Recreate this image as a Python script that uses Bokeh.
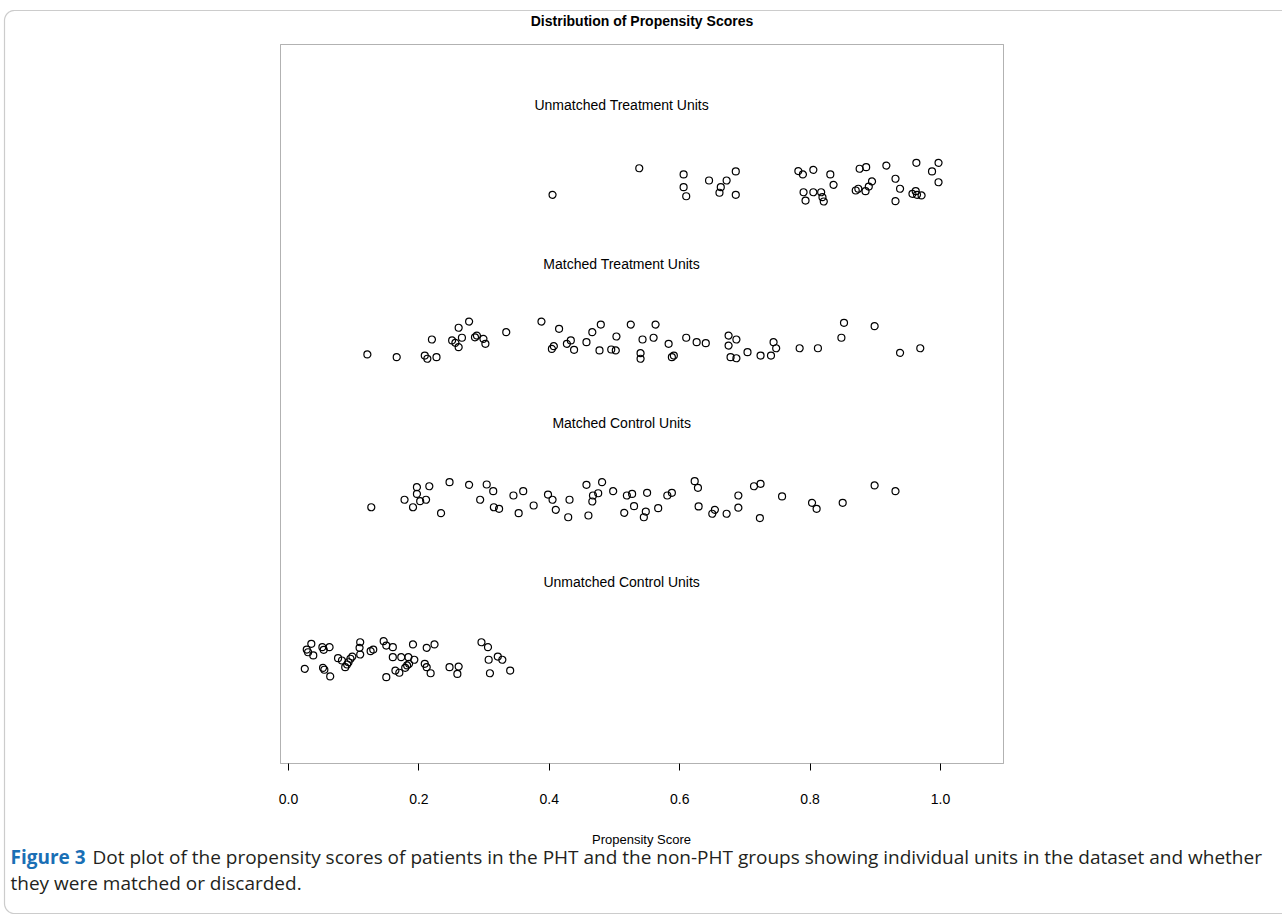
import numpy as np
from bokeh.plotting import figure
from bokeh.models import Range1d, FixedTicker, NumeralTickFormatter, Label, PolyAnnotation, BoxAnnotation
from bokeh.core.properties import value
from bokeh.embed import file_html
from bokeh.resources import INLINE

# ---------------- data ----------------
ticks = [0.0, 0.2, 0.4, 0.6, 0.8, 1.0]
group_labels = ["Unmatched Treatment Units", "Matched Treatment Units",
                "Matched Control Units", "Unmatched Control Units"]
group_label_y = [2.5, 1.5, 0.5, -0.5]

# Unmatched treatment units (jittered around 2)
ut_score = [0.405, 0.538, 0.606, 0.606, 0.610, 0.645, 0.663, 0.661, 0.672, 0.686, 0.686,
            0.782, 0.789, 0.805, 0.831, 0.836, 0.790, 0.793, 0.805, 0.817, 0.819, 0.821,
            0.876, 0.886, 0.917, 0.870, 0.874, 0.885, 0.890, 0.895, 0.931, 0.938, 0.931,
            0.963, 0.997, 0.987, 0.997, 0.957, 0.962, 0.964, 0.971]
ut_jit = [1.932, 2.099, 2.060, 1.980, 1.923, 2.022, 1.980, 1.945, 2.022, 2.079, 1.932,
          2.081, 2.060, 2.089, 2.060, 1.995, 1.948, 1.896, 1.948, 1.948, 1.917, 1.890,
          2.096, 2.106, 2.116, 1.959, 1.970, 1.955, 1.984, 2.016, 2.033, 1.970, 1.892,
          2.133, 2.133, 2.079, 2.011, 1.938, 1.955, 1.932, 1.928]

# Matched treatment units (jittered around 1)
mt_score = [0.121, 0.166, 0.209, 0.213, 0.227, 0.220, 0.251, 0.256, 0.261, 0.266, 0.261,
            0.277, 0.286, 0.289, 0.299, 0.302, 0.334, 0.388, 0.415, 0.404, 0.407, 0.427,
            0.433, 0.438, 0.457, 0.466, 0.479, 0.477, 0.495, 0.502, 0.503, 0.525, 0.563,
            0.543, 0.560, 0.540, 0.540, 0.583, 0.588, 0.591, 0.610, 0.626, 0.640, 0.675,
            0.687, 0.675, 0.678, 0.687, 0.704, 0.724, 0.740, 0.744, 0.748, 0.784, 0.812,
            0.852, 0.848, 0.899, 0.938, 0.969]
mt_jit = [0.928, 0.911, 0.921, 0.901, 0.911, 1.022, 1.016, 1.001, 0.974, 1.033, 1.096,
          1.135, 1.036, 1.047, 1.026, 0.995, 1.068, 1.135, 1.089, 0.963, 0.980, 0.995,
          1.016, 0.957, 1.005, 1.068, 1.116, 0.953, 0.959, 0.953, 1.041, 1.116, 1.116,
          1.022, 1.033, 0.936, 0.901, 0.995, 0.911, 0.921, 1.033, 1.005, 0.999, 1.047,
          1.022, 0.984, 0.911, 0.904, 0.942, 0.921, 0.921, 1.005, 0.967, 0.967, 0.967,
          1.127, 1.033, 1.106, 0.938, 0.967]

# Matched control units (jittered around 0)
mc_score = [0.127, 0.178, 0.191, 0.197, 0.197, 0.202, 0.211, 0.216, 0.234, 0.247, 0.277,
            0.294, 0.304, 0.314, 0.315, 0.323, 0.345, 0.353, 0.360, 0.376, 0.398, 0.405,
            0.431, 0.410, 0.429, 0.457, 0.481, 0.467, 0.475, 0.466, 0.498, 0.460, 0.519,
            0.527, 0.550, 0.515, 0.530, 0.548, 0.545, 0.567, 0.581, 0.588, 0.623, 0.628,
            0.629, 0.650, 0.654, 0.672, 0.690, 0.690, 0.714, 0.724, 0.723, 0.757, 0.803,
            0.810, 0.850, 0.899, 0.931]
mc_jit = [-0.033, 0.014, -0.033, 0.093, 0.051, 0.005, 0.014, 0.099, -0.070, 0.125, 0.108,
          0.014, 0.110, 0.068, -0.033, -0.043, 0.041, -0.070, 0.068, -0.022, 0.047, 0.014,
          0.014, -0.049, -0.096, 0.108, 0.125, 0.041, 0.055, 0.003, 0.068, -0.085, 0.041,
          0.051, 0.058, -0.068, -0.026, -0.060, -0.096, -0.039, 0.041, 0.058, 0.131, 0.089,
          -0.028, -0.074, -0.049, -0.074, 0.041, -0.036, 0.099, 0.114, -0.101, 0.035, -0.005,
          -0.043, -0.005, 0.104, 0.068]

# Unmatched control units (jittered around -1)
uc_score = [0.035, 0.028, 0.030, 0.038, 0.025, 0.052, 0.054, 0.063, 0.053, 0.055, 0.064,
            0.076, 0.082, 0.087, 0.090, 0.092, 0.095, 0.098, 0.110, 0.109, 0.110, 0.126,
            0.130, 0.146, 0.150, 0.160, 0.160, 0.173, 0.184, 0.193, 0.185, 0.182, 0.179,
            0.164, 0.170, 0.150, 0.191, 0.212, 0.224, 0.209, 0.212, 0.218, 0.247, 0.261,
            0.259, 0.296, 0.306, 0.321, 0.307, 0.328, 0.309, 0.340]
uc_jit = [-0.892, -0.928, -0.945, -0.965, -1.049, -0.913, -0.930, -0.913, -1.043, -1.055, -1.097,
          -0.982, -0.997, -1.039, -1.022, -1.008, -0.986, -0.972, -0.882, -0.917, -0.959, -0.938,
          -0.928, -0.875, -0.903, -0.913, -0.976, -0.976, -0.976, -0.992, -1.018, -1.028, -1.043,
          -1.060, -1.074, -1.102, -0.896, -0.917, -0.896, -1.018, -1.039, -1.077, -1.039, -1.035,
          -1.081, -0.882, -0.913, -0.972, -0.992, -0.992, -1.077, -1.060]

# ---------------- layout (pixel geometry of the panel) ----------------
W, H = 1282, 921
X_ZERO_PX, PX_PER_X = 288.0, 652.0       # x = 0 at 288 px, 652 px per unit
Y_REF_PX, Y_REF, PX_PER_Y = 104.0, 2.5, 159.0
BOX_L, BOX_R, BOX_T, BOX_B = 280, 1003, 44, 763


def dx(px):
    return (px - X_ZERO_PX) / PX_PER_X


def dy(py):
    return Y_REF - (py - Y_REF_PX) / PX_PER_Y


p = figure(width=W, height=H, output_backend="svg", toolbar_location=None,
           x_range=Range1d(dx(0), dx(W)), y_range=Range1d(dy(H), dy(0)),
           y_axis_location=None, min_border=0)
p.background_fill_color = "white"
p.border_fill_color = "white"
p.outline_line_color = None
p.xgrid.visible = False
p.ygrid.visible = False

# plot box
p.add_layout(BoxAnnotation(left=dx(BOX_L), right=dx(BOX_R), top=dy(BOX_T), bottom=dy(BOX_B),
                           fill_color=None, line_color="black", line_width=1))

ax = p.xaxis[0]
ax.fixed_location = dy(BOX_B)
ax.ticker = FixedTicker(ticks=ticks)
ax.formatter = NumeralTickFormatter(format="0.0")
ax.minor_tick_line_color = None
ax.major_tick_out = 7
ax.major_tick_in = 0
ax.axis_line_color = None
ax.major_tick_line_color = "black"
ax.major_label_standoff = 23
ax.major_label_text_font = "Liberation Sans"
ax.major_label_text_font_size = "14px"
ax.major_label_text_color = "black"
ax.axis_label = "Propensity Score"
ax.axis_label_text_font = "Liberation Sans"
ax.axis_label_text_font_size = "13px"
ax.axis_label_text_font_style = "normal"
ax.axis_label_text_color = "black"
ax.axis_label_standoff = 25

for xs, ys in [(mt_score, mt_jit), (mc_score, mc_jit), (ut_score, ut_jit), (uc_score, uc_jit)]:
    p.scatter(xs, ys, marker="circle", size=7, fill_color=None,
              line_color="black", line_width=1.2)

all_scores = ut_score + mt_score + mc_score + uc_score
mid = (min(all_scores) + max(all_scores)) / 2
p.text(x=[mid] * 4, y=group_label_y, text=group_labels,
       text_font=value("Liberation Sans"), text_font_size="14px",
       text_align="center", text_baseline="middle", text_color="black")

# title
p.add_layout(Label(x=dx((BOX_L + BOX_R) / 2), y=dy(20), text="Distribution of Propensity Scores",
                   text_font="Liberation Sans", text_font_size="14px", text_font_style="bold",
                   text_align="center", text_baseline="middle", text_color="black"))

# caption
p.add_layout(Label(x=dx(10), y=dy(856), text="Figure 3", text_font="Open Sans",
                   text_font_size="19px", text_font_style="bold", text_color="#1a6fb5",
                   text_align="left", text_baseline="middle"))
p.add_layout(Label(x=dx(92), y=dy(856),
                   text="Dot plot of the propensity scores of patients in the PHT and the non-PHT groups showing individual units in the dataset and whether",
                   text_font="Open Sans", text_font_size="19px", text_color="#231f20",
                   text_align="left", text_baseline="middle"))
p.add_layout(Label(x=dx(10), y=dy(882), text="they were matched or discarded.",
                   text_font="Open Sans", text_font_size="19px", text_color="#231f20",
                   text_align="left", text_baseline="middle"))

# rounded frame around the figure panel (open on the right)
r = 10
t = np.linspace(0, np.pi / 2, 12)
fx = [1300] + list(14 - r * np.sin(t)) + list(14 - r * np.cos(t)) + [1300]
fy = [10] + list(20 - r * np.cos(t)) + list(903 + r * np.sin(t)) + [913]
p.add_layout(PolyAnnotation(xs=[dx(v) for v in fx], ys=[dy(v) for v in fy],
                            fill_alpha=0, line_color="#555555", line_width=1.2))

open("out.html", "w").write(file_html(p, INLINE))
